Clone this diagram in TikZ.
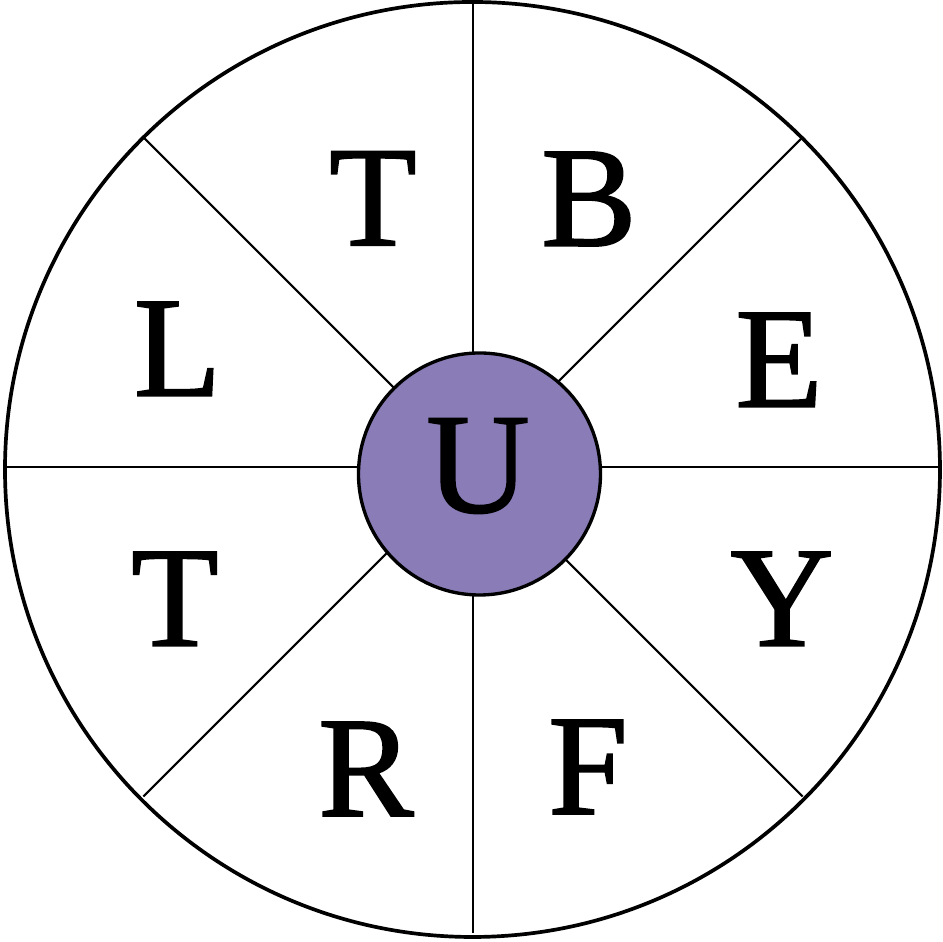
\documentclass[tikz,border=0pt]{standalone}
\usepackage{fontspec}
\setmainfont{Liberation Serif}
\newfontfamily\wheelfont[FakeBold=1.3]{Liberation Serif}
\usetikzlibrary{calc}
\definecolor{hubpurple}{HTML}{8A7CB6}
\definecolor{ink}{HTML}{000000}

\begin{document}
\begin{tikzpicture}[
  x=1cm,y=1cm,
  letter/.style={inner sep=0pt,text=ink,font=\wheelfont\fontsize{40.7}{44}\selectfont},
  spoke/.style={draw=ink,line width=.6pt},
  rim/.style={draw=ink,line width=1.05pt},
  hub/.style={circle,draw=ink,line width=.95pt,fill=hubpurple,
              minimum size=2.42cm,inner sep=0pt}
]
\useasboundingbox (-4.73,-4.75) rectangle (4.70,4.67);
\fill[white] (-4.73,-4.75) rectangle (4.70,4.67);

% wheel and spokes
\coordinate (c) at (0,0);
\foreach \a in {0,45,...,315}
  \draw[spoke] (c) -- (\a:4.66);
\draw[rim] (-.005,-.025) circle (4.675);

% centre hub
\node[hub,letter] (hu) at (.065,-.07) {};
\node[letter] (u) at (.05,.01) {U};

% outer letters
\node[letter] (tt) at (-1.00,2.685) {T};
\node[letter] (b)  at (1.16,2.68) {B};
\node[letter] (e)  at (3.06,1.07) {E};
\node[letter] (y)  at (3.09,-1.32) {Y};
\node[letter] (f)  at (1.15,-3.00) {F};
\node[letter] (r)  at (-1.07,-3.02) {R};
\node[letter] (tl) at (-2.98,-1.32) {T};
\node[letter] (l)  at (-2.955,1.18) {L};
\end{tikzpicture}
\end{document}
